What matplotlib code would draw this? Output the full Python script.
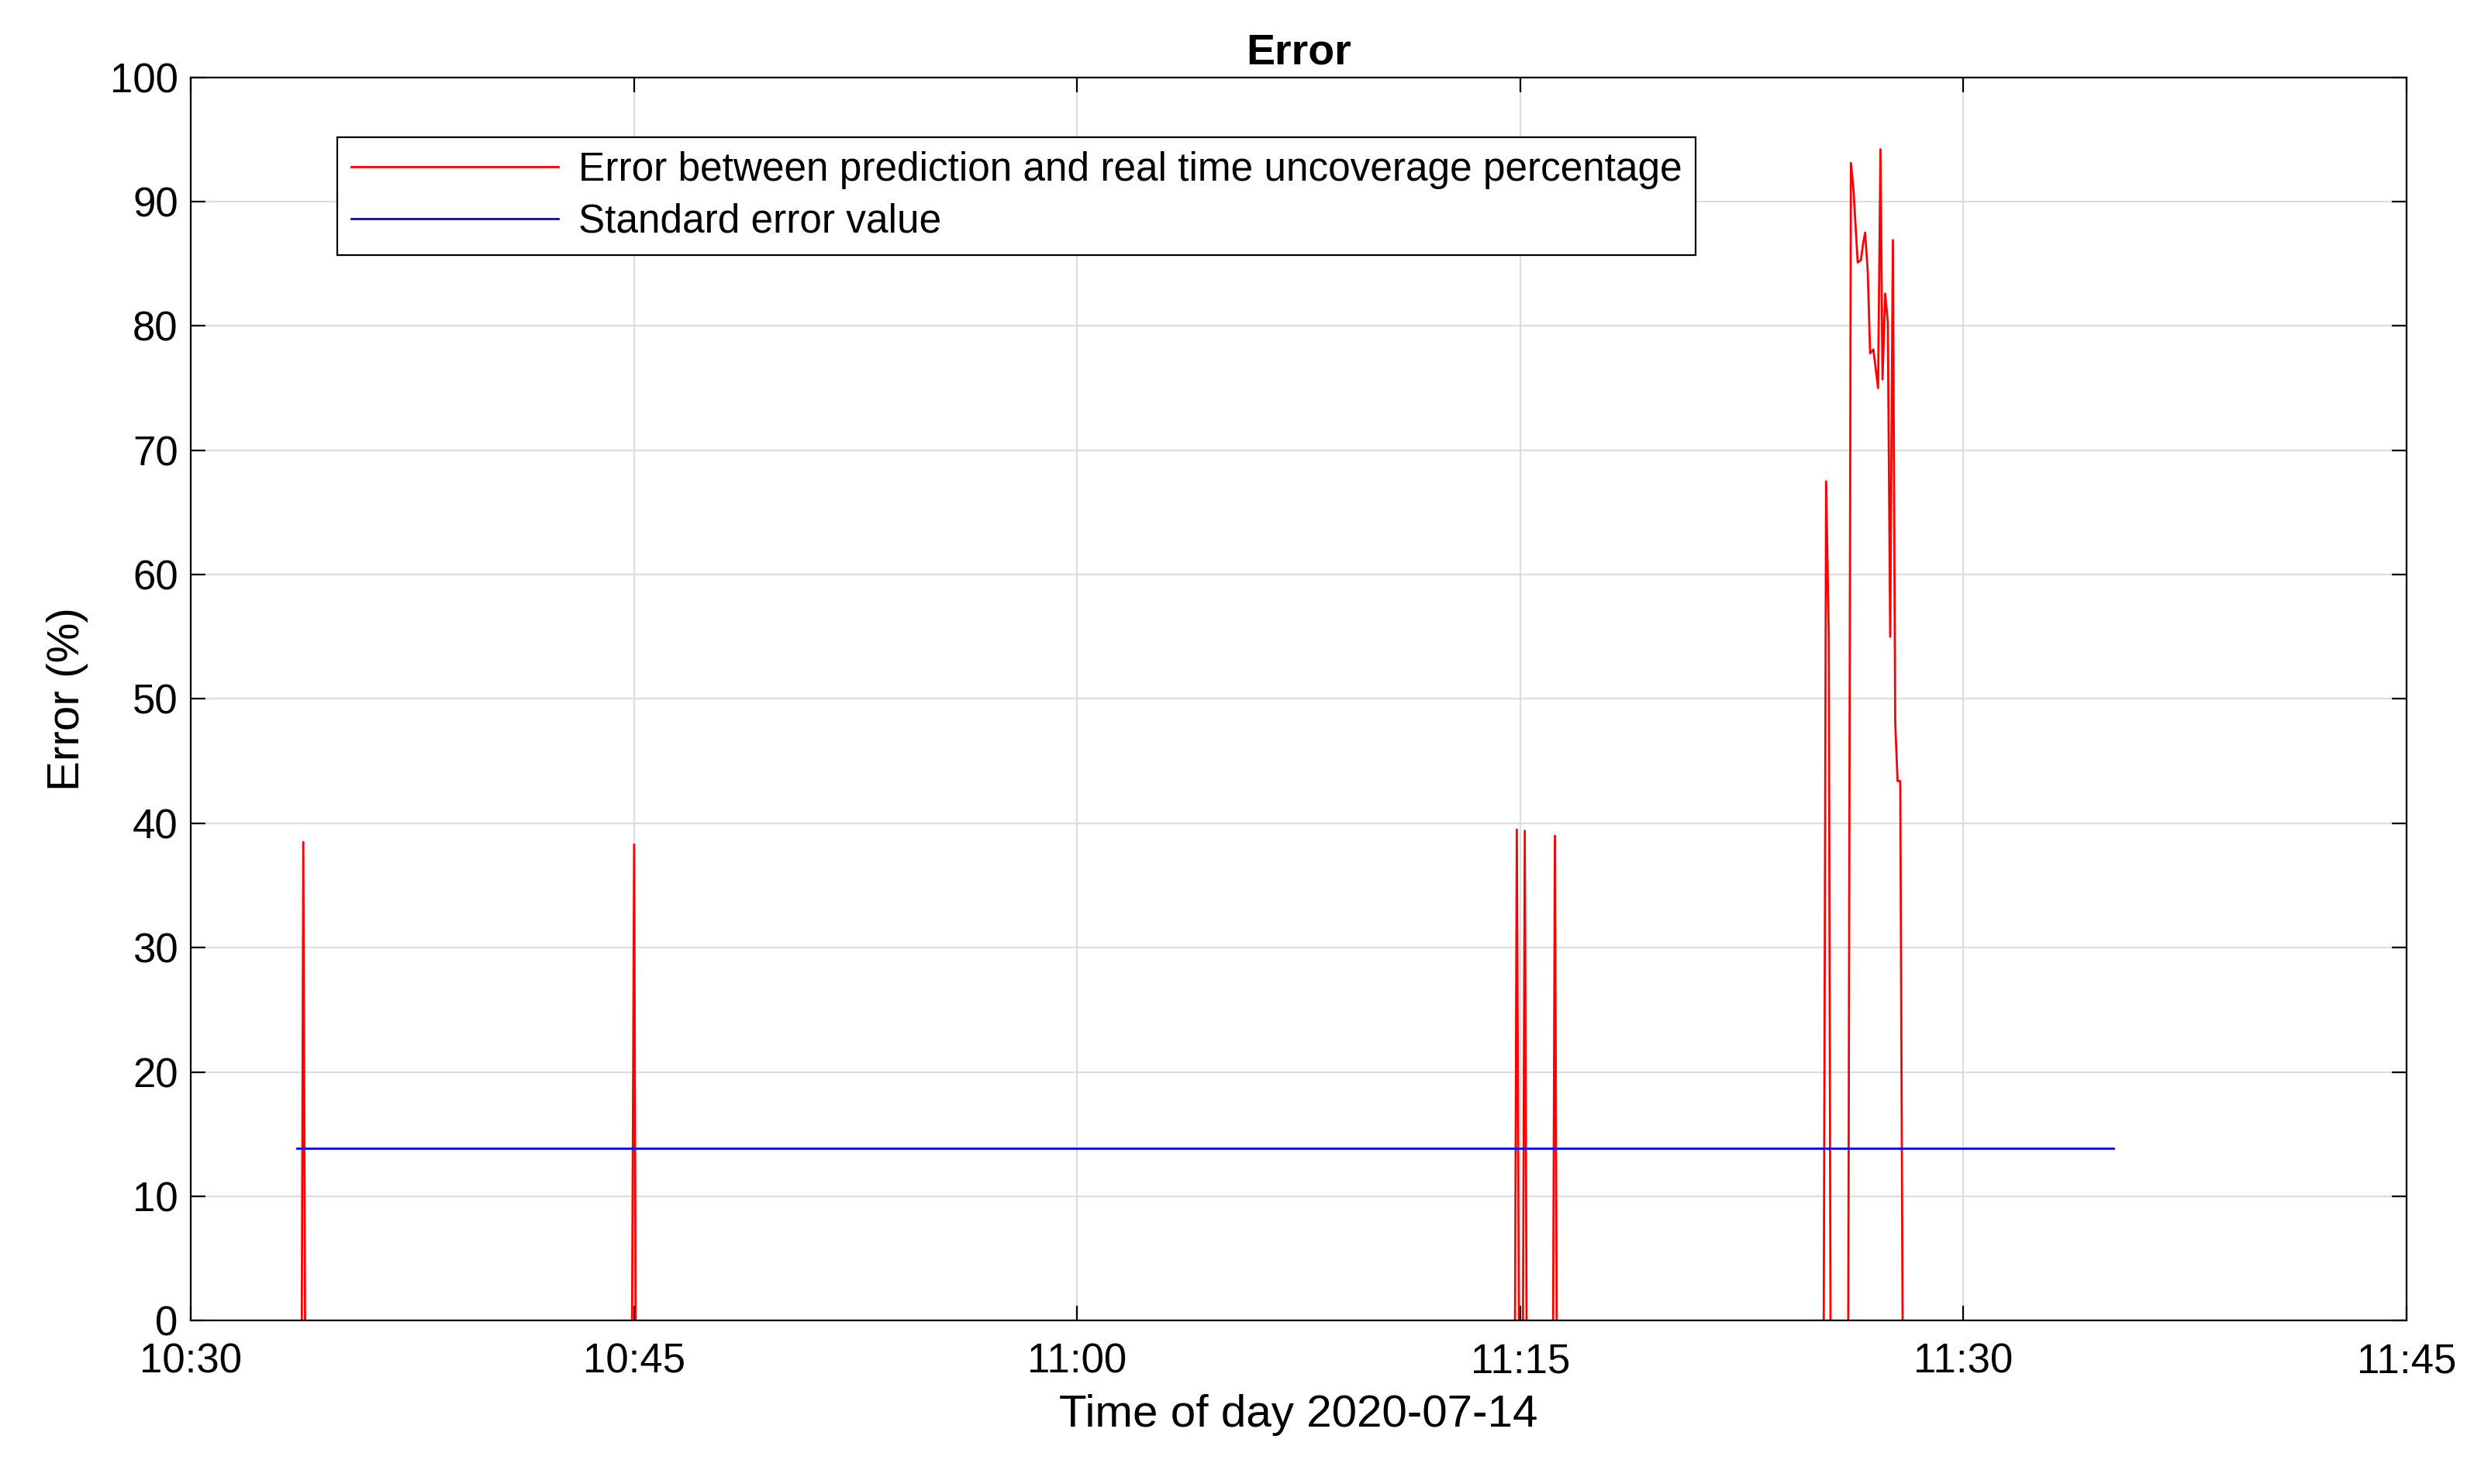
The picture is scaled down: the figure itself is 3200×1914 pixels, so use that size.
import matplotlib
matplotlib.use("Agg")
import matplotlib.pyplot as plt
import matplotlib.dates as mdates
import numpy as np
from datetime import datetime, timedelta

plt.rcParams["font.family"] = ["Liberation Sans", "DejaVu Sans"]

BASE = datetime(2020, 7, 14, 10, 30)

# minutes after 10:30 and error values (%)
ERR_MIN = [3.59, 3.75, 3.80, 3.86, 14.93, 15.0, 15.05,
           44.82, 44.88, 44.95, 45.09, 45.15, 45.21, 46.11, 46.17, 46.23,
           55.27, 55.35, 55.44, 55.50, 56.10,
           56.19, 56.27, 56.42, 56.53, 56.60, 56.67, 56.76, 56.84, 56.95, 57.11,
           57.19, 57.26, 57.35, 57.44, 57.52, 57.61, 57.69, 57.77, 57.86, 57.94, 65.08]
ERR_VAL = [0, 0, 38.5, 0, 0, 38.3, 0,
           0, 39.5, 0, 0, 39.4, 0, 0, 39.0, 0,
           0, 67.5, 55.0, 0, 0,
           93.1, 91.2, 85.1, 85.3, 86.6, 87.5, 84.4, 77.8, 78.1, 75.0,
           94.2, 75.7, 82.6, 80.3, 55.0, 86.9, 48.1, 43.4, 43.4, 0, 0]
STD_MIN = [3.59, 65.08]
STD_VAL = [13.9, 13.9]


def to_time(minutes):
    return [BASE + timedelta(minutes=m) for m in minutes]


fig, ax = plt.subplots(figsize=(16, 9.57), dpi=200)
fig.subplots_adjust(left=0.077, right=0.970, top=0.948, bottom=0.110)

ax.plot(to_time(ERR_MIN), ERR_VAL, color="red", linewidth=1.0,
        label="Error between prediction and real time uncoverage percentage")
ax.plot(to_time(STD_MIN), STD_VAL, color="blue", linewidth=1.0,
        label="Standard error value")

ax.set_xlim(BASE, BASE + timedelta(minutes=75))
ax.set_ylim(0, 100)
ax.set_yticks(np.arange(0, 101, 10))
ax.xaxis.set_major_locator(mdates.MinuteLocator(byminute=[0, 15, 30, 45]))
ax.xaxis.set_major_formatter(mdates.DateFormatter("%H:%M"))
ax.tick_params(labelsize=19, direction="in", top=True, right=True, length=7)
ax.tick_params(axis="x", pad=10)
ax.tick_params(axis="y", pad=6)
ax.grid(True, color="#dddddd", linewidth=0.8)
ax.set_axisbelow(True)

ax.set_xlabel("Time of day 2020-07-14", fontsize=21, labelpad=6)
ax.set_ylabel("Error (%)", fontsize=21, labelpad=10)
ax.set_title("Error", fontsize=20, fontweight="bold")

leg = ax.legend(loc="upper left", bbox_to_anchor=(0.057, 0.968), fontsize=18.5,
                fancybox=False, edgecolor="black", framealpha=1,
                handlelength=5.2, handletextpad=0.5, borderpad=0.35, labelspacing=0.35)
leg.get_frame().set_linewidth(0.8)

fig.savefig("out.png", dpi=200)
